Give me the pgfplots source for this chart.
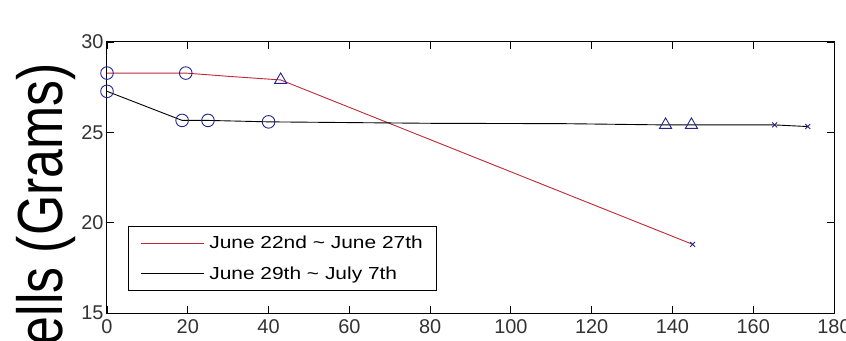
\documentclass[border=0pt]{standalone}
\usepackage{fontspec}
\setmainfont{Liberation Sans}
\usepackage{pgfplots}
\pgfplotsset{compat=1.18}
\definecolor{redline}{RGB}{190,40,55}
\definecolor{mk}{RGB}{35,35,140}
\begin{document}
\begin{tikzpicture}
\begin{axis}[
  at={(0,0)}, anchor=south west,
  scale only axis, width=727bp, height=271bp,
  xmin=0, xmax=180, ymin=15, ymax=30,
  xtick={0,20,...,180}, ytick={15,20,25,30},
  tick align=inside, major tick length=7bp,
  tick style={black, line width=0.9bp},
  axis line style={line width=1bp},
  ticklabel style={font=\fontsize{20}{20}\selectfont, color=black!80},
  /pgf/number format/assume math mode=true,
  xticklabel style={yshift=-3bp},
  legend cell align=left,
  legend style={at={(axis description cs:0.0289,0.0812)}, anchor=south west,
    draw=black, line width=0.8bp, fill=white,
    inner xsep=12bp, inner ysep=8bp, row sep=12bp,
    font=\fontsize{17.5}{17.5}\selectfont,
    nodes={inner sep=2bp}},
  legend image code/.code={\draw[#1] (0bp,0bp) -- (63bp,0bp);},
]
\addplot[redline, line width=0.9bp] coordinates {
  (0,28.28) (19.5,28.28) (30,28.1) (43,27.9) (145,18.8)
};
\addlegendentry{\hspace{3bp}\scalebox{1.2}[1]{June 22nd \textasciitilde{} June 27th}}
\addplot[black, line width=0.9bp] coordinates {
  (0,27.27) (18.6,25.66) (25,25.66) (40,25.58) (80,25.5) (113,25.48) (138.3,25.41) (144.7,25.41) (165.3,25.41) (173.5,25.32)
};
\addlegendentry{\hspace{3bp}\scalebox{1.2}[1]{June 29th \textasciitilde{} July 7th}}
% markers
\addplot[forget plot, only marks, mark=o, mark size=6.3bp, mk, mark options={line width=0.9bp}] coordinates {
  (0,28.28) (19.5,28.28) (0,27.27) (18.6,25.66) (25,25.66) (40,25.58)
};
\addplot[forget plot, only marks, mark=triangle, mark size=7bp, mk, mark options={line width=0.9bp}] coordinates {
  (43,27.9) (138.3,25.41) (144.7,25.41)
};
\addplot[forget plot, only marks, mark=x, mark size=3.5bp, mk, mark options={line width=0.9bp}] coordinates {
  (145,18.8) (165.3,25.41) (173.5,25.32)
};
\end{axis}
\node[anchor=north west, inner sep=0pt] at (-90.7bp,250bp)
  {\scalebox{1.23}[1]{\rotatebox{90}{\fontsize{52}{52}\selectfont Shells (Grams)}}};
\pgfresetboundingbox
\useasboundingbox (-107bp,-28bp) rectangle (739bp,313bp);
\end{tikzpicture}
\end{document}
